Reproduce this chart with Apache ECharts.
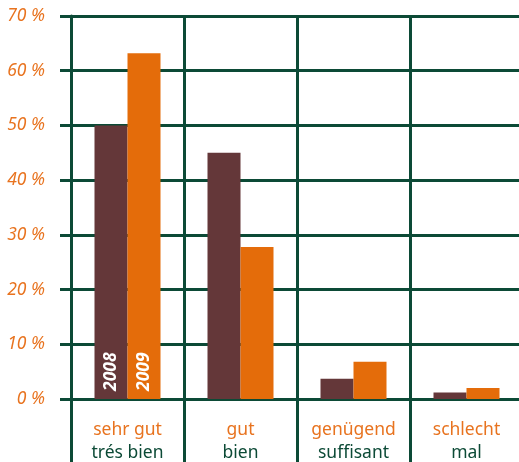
<!DOCTYPE html>
<html><head><meta charset="utf-8">
<script src="https://cdn.jsdelivr.net/npm/echarts@6/dist/echarts.min.js"></script>
<style>html,body{margin:0;padding:0;background:#fff}#c{width:519px;height:462px}</style>
</head><body><div id="c"></div>
<script>
const categoriesDe = ['sehr gut', 'gut', 'genügend', 'schlecht'];
const categoriesFr = ['trés bien', 'bien', 'suffisant', 'mal'];
const seriesNames = ['2008', '2009'];
const values2008 = [50, 45, 3.7, 1.2];
const values2009 = [63.2, 27.8, 6.8, 2.0];
const yTicks = [0, 10, 20, 30, 40, 50, 60, 70];

const GREEN = '#0c4a36', ORANGE = '#e46c0a', BROWN = '#643739', LABEL = '#e8731f';
const FONT = 'Noto Sans';

function mkData(vals, name) {
  return vals.map((v, i) => i === 0 ? {
    value: v,
    label: { show: true, formatter: name, position: 'insideBottom', rotate: 90, align: 'left', verticalAlign: 'middle',
      distance: 8, color: '#fff', fontFamily: FONT, fontStyle: 'italic', fontWeight: 'bold', fontSize: 17.5 }
  } : v);
}

const chart = echarts.init(document.getElementById('c'));
chart.setOption({
  animation: false,
  grid: { left: 71, top: 16, width: 452, bottom: 63, containLabel: false, outerBoundsMode: 'none' },
  xAxis: {
    type: 'category',
    data: categoriesDe.map((d, i) => d + '\n' + categoriesFr[i]),
    boundaryGap: true,
    axisLine: { show: true, lineStyle: { color: GREEN, width: 3 } },
    axisTick: { show: true, interval: 0, length: 63, lineStyle: { color: GREEN, width: 3 } },
    splitLine: { show: true, interval: 0, lineStyle: { color: GREEN, width: 3 } },
    axisLabel: {
      interval: 0, margin: 20,
      formatter: (v) => { const p = v.split('\n'); return '{a|' + p[0] + '}\n{b|' + p[1] + '}'; },
      rich: {
        a: { color: LABEL, fontFamily: FONT, fontSize: 17.5, lineHeight: 23 },
        b: { color: GREEN, fontFamily: FONT, fontSize: 17.5, lineHeight: 23 }
      }
    }
  },
  yAxis: {
    type: 'value', min: yTicks[0], max: yTicks[yTicks.length - 1], interval: 10,
    axisLine: { show: true, lineStyle: { color: GREEN, width: 3 } },
    axisTick: { show: true, length: 11, lineStyle: { color: GREEN, width: 3 } },
    splitLine: { show: true, lineStyle: { color: GREEN, width: 3 } },
    axisLabel: { margin: 26, formatter: '{value} %', color: LABEL, fontFamily: FONT, fontStyle: 'italic', fontSize: 17.5 }
  },
  series: [
    { name: seriesNames[0], type: 'bar', data: mkData(values2008, seriesNames[0]), barWidth: 33, barGap: '0%', itemStyle: { color: BROWN } },
    { name: seriesNames[1], type: 'bar', data: mkData(values2009, seriesNames[1]), barWidth: 33, barGap: '0%', itemStyle: { color: ORANGE } }
  ]
});
</script></body></html>
